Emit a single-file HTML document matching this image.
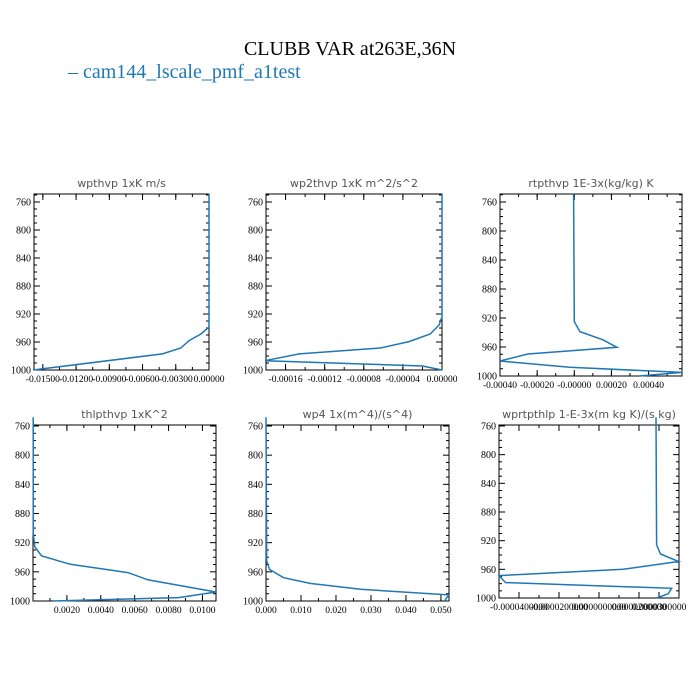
<!DOCTYPE html>
<html><head><meta charset="utf-8"><style>
body{margin:0;background:#fff;width:700px;height:700px;overflow:hidden}
svg{display:block}
</style></head><body>
<svg id="fig" width="700" height="700">
<text x="350" y="55" text-anchor="middle" font-family="Liberation Serif, serif" font-size="20">CLUBB VAR at263E,36N</text>
<g>
<text x="68" y="78" font-family="Liberation Serif, serif" font-size="20" fill="#1f77b4">– cam144_lscale_pmf_a1test</text>
</g>
</svg>
<script>
// pressure levels and values per panel
const p1 = [748, 938.6, 948.6, 958, 968.6, 977, 1000];
const v1 = [0, 0, -0.00073, -0.0018, -0.00255, -0.0042, -0.0159];
const p2 = [748, 923.8, 935.7, 948.6, 959.5, 968.6, 977, 986.7, 994.3, 1000];
const v2 = [0, 0, -0.000003, -0.0000121, -0.0000337, -0.000063, -0.000146, -0.000181, -0.00002, 0];
const p3 = [748, 925, 938.8, 950, 960.4, 969.7, 979.3, 988, 995, 1000];
const v3 = [-0.0000036, 0, 0.00003, 0.000154, 0.00023, -0.00025, -0.0004, -0.000025, 0.00058, 0.00035];
const p4 = [748, 907, 925.4, 938, 949.6, 961, 971, 987.6, 995.4, 1000];
const v4 = [0.00001, 0.00002, 0.0001, 0.0005, 0.0022, 0.0056, 0.0068, 0.0108, 0.0086, 0.0012];
const p5 = [748, 945, 956.6, 968, 975.8, 984, 991.7, 1000];
const v5 = [0, 0.0002, 0.001, 0.005, 0.0126, 0.027, 0.0522, 0.051];
const p6 = [748, 926, 938.6, 949, 960, 968.8, 978.5, 986.4, 994.2, 1000];
const v6 = [0.0000285, 0.0000288, 0.0000308, 0.0000398, 0.0000121, -0.00005, -0.0000467, 0.0000363, 0.0000346, 0.0000288];
const yTicks = [760, 800, 840, 880, 920, 960, 1000];
const xTicks1 = [-0.015, -0.012, -0.009, -0.006, -0.003, 0];
const xLabels1 = ["-0.01500", "-0.01200", "-0.00900", "-0.00600", "-0.00300", "0.00000"];
const xTicks2 = [-0.00016, -0.00012, -0.00008, -0.00004, 0];
const xLabels2 = ["-0.00016", "-0.00012", "-0.00008", "-0.00004", "0.00000"];
const xTicks3 = [-0.0004, -0.0002, 0, 0.0002, 0.0004];
const xLabels3 = ["-0.00040", "-0.00020", "-0.00000", "0.00020", "0.00040"];
const xTicks4 = [0.002, 0.004, 0.006, 0.008, 0.010];
const xLabels4 = ["0.0020", "0.0040", "0.0060", "0.0080", "0.0100"];
const xTicks5 = [0, 0.01, 0.02, 0.03, 0.04, 0.05];
const xLabels5 = ["0.000", "0.010", "0.020", "0.030", "0.040", "0.050"];
const xTicks6 = [-0.00004, -0.00002, 0, 0.00002, 0.00003];
const xLabels6 = ["-0.0000400000", "-0.0000200000", "0.0000000000", "0.0000200000", "0.0000300000"];

const NS = "http://www.w3.org/2000/svg";
const svg = document.getElementById("fig");
function mk(tag, attrs, parent) {
  const e = document.createElementNS(NS, tag);
  for (const k in attrs) e.setAttribute(k, attrs[k]);
  parent.appendChild(e);
  return e;
}
const panels = [
  {name:"wpthvp", title:"wpthvp   1xK m/s", box:[34,194,209,370], p760:202, p1000:370, xd:[-0.0158,0], P:p1, V:v1, xt:xTicks1, xl:xLabels1, minor:0.0015},
  {name:"wp2thvp", title:"wp2thvp   1xK m^2/s^2", box:[266,194,442,370], p760:202, p1000:370, xd:[-0.00018,0], P:p2, V:v2, xt:xTicks2, xl:xLabels2, minor:0.00002},
  {name:"rtpthvp", title:"rtpthvp   1E-3x(kg/kg) K", box:[500,194,682,376], p760:202, p1000:376, xd:[-0.0004,0.00058], P:p3, V:v3, xt:xTicks3, xl:xLabels3, minor:0.0001},
  {name:"thlpthvp", title:"thlpthvp    1xK^2", box:[33,425,216,601], p760:426, p1000:601, xd:[0,0.0108], P:p4, V:v4, xt:xTicks4, xl:xLabels4, minor:0.001},
  {name:"wp4", title:"wp4   1x(m^4)/(s^4)", box:[266,425,449,601], p760:426, p1000:601, xd:[0,0.0523], P:p5, V:v5, xt:xTicks5, xl:xLabels5, minor:0.005},
  {name:"wprtpthlp", title:"wprtpthlp   1-E-3x(m kg K)/(s kg)", box:[499,425,679,598], p760:426, p1000:598, xd:[-0.00005,0.00004], P:p6, V:v6, xt:xTicks6, xl:xLabels6, minor:0.00001}
];
panels.forEach(pn => {
  const g = mk("g", {}, svg);
  
  
  const [x0,y0,x1,y1] = pn.box;
  const ys = p => pn.p760 + (p - 760) * (pn.p1000 - pn.p760) / 240;
  const xs = v => x0 + (v - pn.xd[0]) / (pn.xd[1] - pn.xd[0]) * (x1 - x0);
  const t = mk("text", {x:(x0+x1)/2, y:y0-7, "text-anchor":"middle", "font-family":"DejaVu Sans, sans-serif", "font-size":"11", fill:"#555"}, g);
  t.textContent = pn.title;
  
  
  const ln = mk("g", {stroke:"#000", "stroke-width":"1"}, g);
  
  
  // y minor/major ticks
  for (let p = 750; p <= 1000; p += 10) {
    const y = ys(p);
    if (y < y0) continue;
    const major = yTicks.includes(p);
    const L = major ? 6 : 3;
    mk("line", {x1:x0, y1:y, x2:x0+L, y2:y}, ln);
    mk("line", {x1:x1, y1:y, x2:x1-L, y2:y}, ln);
  }
  yTicks.forEach(p => {
    const tx = mk("text", {x:x0-3, y:ys(p)+3.5, "text-anchor":"end", "font-family":"Liberation Serif, serif", "font-size":"10"}, g);
    tx.textContent = p;
    
    
  });
  // x minor ticks
  const st = Math.ceil(pn.xd[0]/pn.minor);
  for (let k = st; k*pn.minor <= pn.xd[1]+1e-12; k++) {
    const x = xs(k*pn.minor);
    mk("line", {x1:x, y1:y1, x2:x, y2:y1-3}, ln);
    mk("line", {x1:x, y1:y0, x2:x, y2:y0+3}, ln);
  }
  pn.xt.forEach((v,i) => {
    const x = xs(v);
    mk("line", {x1:x, y1:y1, x2:x, y2:y1-6}, ln);
    mk("line", {x1:x, y1:y0, x2:x, y2:y0+6}, ln);
    const tx = mk("text", {x:x, y:y1+12, "text-anchor":"middle", "font-family":"Liberation Serif, serif", "font-size":"9.5"}, g);
    tx.textContent = pn.xl[i];
    
    
  });
  const fr = mk("rect", {x:x0, y:y0, width:x1-x0, height:y1-y0, fill:"none", stroke:"#000", "stroke-width":"1"}, g);
  
  
  const d = pn.P.map((p,i) => (i?"L":"M") + xs(pn.V[i]).toFixed(1) + "," + ys(p).toFixed(1)).join(" ");
  const path = mk("path", {d:d, fill:"none", stroke:"#1f77b4", "stroke-width":"1.5"}, g);
  
  
});
</script>
</body></html>
